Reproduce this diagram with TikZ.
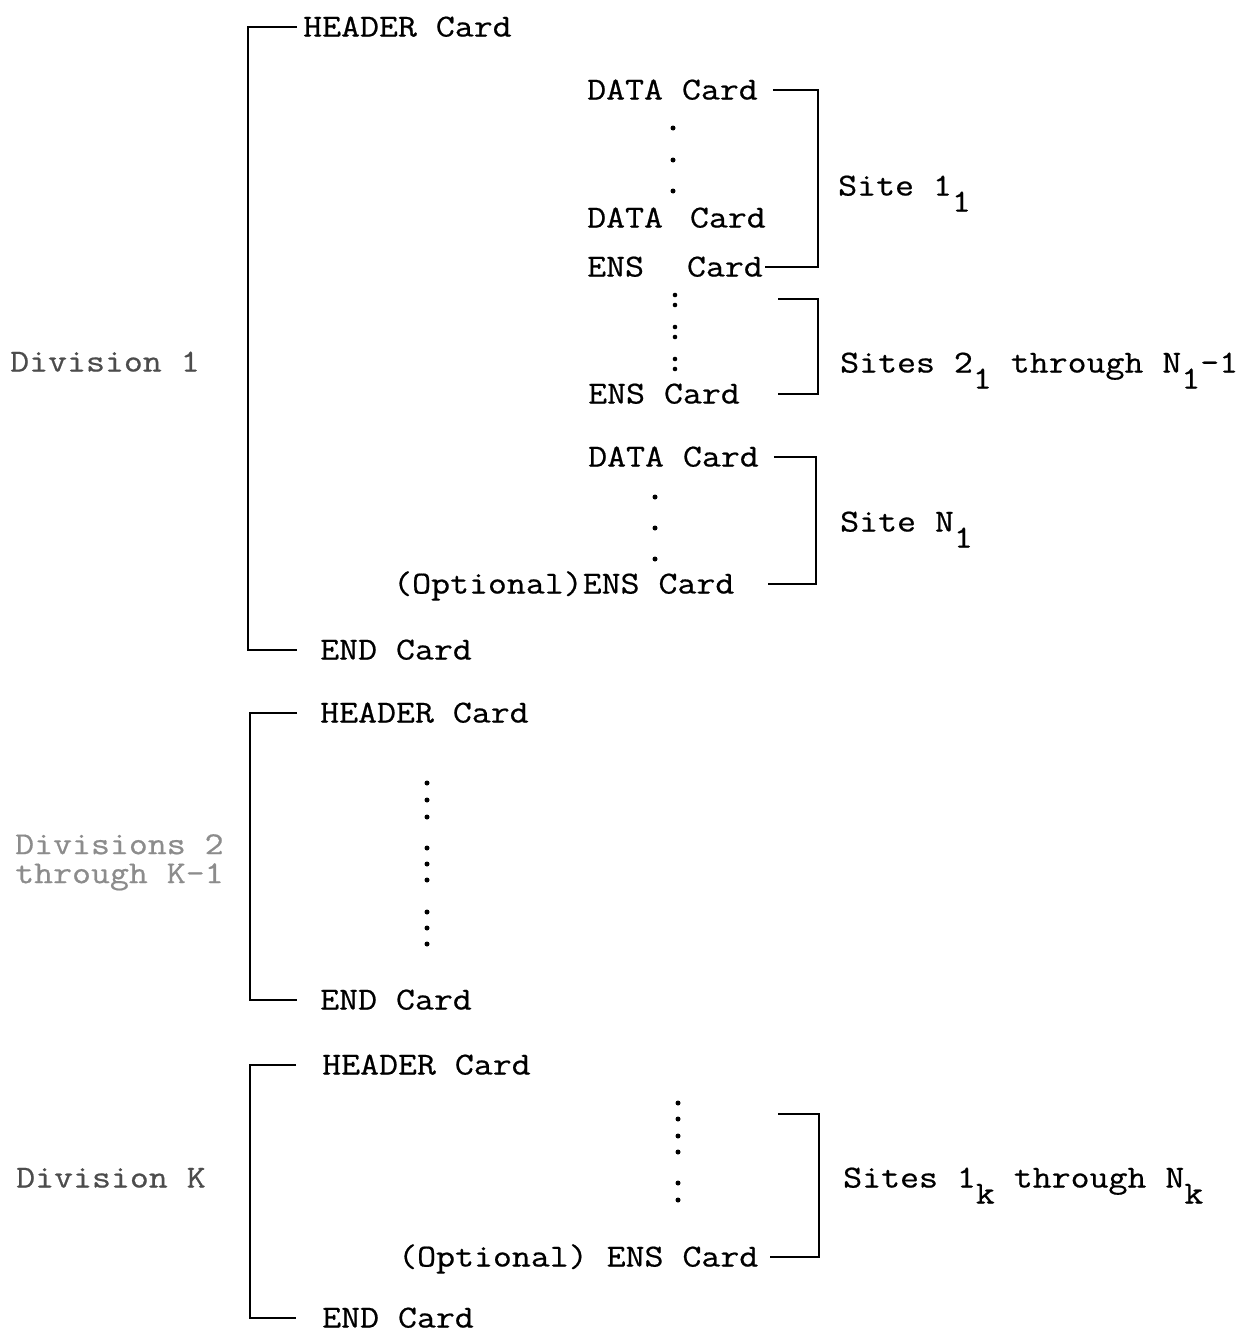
\documentclass[tikz,border=0pt]{standalone}
\usepackage{fontspec}
\setmonofont{Latin Modern Mono}[FakeStretch=1.15,FakeBold=0.6]
\newcommand\sbs[1]{\raisebox{-16pt}{#1}}
\begin{document}
\begin{tikzpicture}[x=1pt,y=-1pt,
  txt/.style={anchor=west,inner sep=0pt,text height=19pt,text depth=0pt,
    font=\ttfamily\fontsize{32}{29}\selectfont},
  divtxt/.style={txt,text=black!70},
  br/.style={line width=2pt},
  dot/.style={fill=black}]
\useasboundingbox (0,0) rectangle (1247,1333);
% ---------------- Division 1
\node[txt] (h1) at (303,27) {HEADER Card};
\node[txt] (d1a) at (587,90) {DATA Card};
\node[txt] (d1b) at (587,218) {DATA\hspace{8pt} Card};
\node[txt] (ens1) at (587,267) {ENS\hspace{24pt} Card};
\node[txt] (s11) at (838,186) {Site 1\sbs{1}};
\node[txt] (ens2) at (588,394) {ENS Card};
\node[txt] (s2) at (840,363) {Sites 2\sbs{1} through N\sbs{1}-1};
\node[txt] (d1c) at (588,457) {DATA Card};
\node[txt] (opt1) at (393,584) {(Optional)ENS Card};
\node[txt] (sN) at (840,522) {Site N\sbs{1}};
\node[txt] (e1) at (320,650) {END Card};
\node[divtxt] (div1) at (10,362) {Division 1};
\foreach \y in {128,160,191} \fill[dot] (673,\y) circle (2.5);
\foreach \y in {295,305,327,337,359,369} \fill[dot] (675,\y) circle (2.3);
\foreach \y in {497,528,559} \fill[dot] (655,\y) circle (2.5);
\coordinate (sp1) at (818,0);
\coordinate (sp3) at (816,0);
\coordinate (t2) at (778,299);
\draw[br] ([xshift=-6pt]h1.west) -- ++(-49,0) |- ([xshift=-23pt]e1.west);
\draw[br] ([xshift=15pt]d1a.east) -- (d1a.east -| sp1) -- (ens1.east -| sp1) -- ([xshift=2pt]ens1.east);
\draw[br] (t2) -- (t2 -| sp1) -- (ens2.east -| sp1) -- ([xshift=38pt]ens2.east);
\draw[br] ([xshift=15pt]d1c.east) -- (d1c.east -| sp3) -- (opt1.east -| sp3) -- ([xshift=33pt]opt1.east);
% ---------------- Divisions 2 .. K-1
\node[txt] (h2) at (320,713) {HEADER Card};
\node[txt] (e2) at (320,1000) {END Card};
\node[txt,text=black!45,align=left,anchor=north west,text height=,text depth=] (div2) at (15,834) {Divisions 2\\through K-1};
\foreach \y in {783,800,817,848,864,880,912,928,944} \fill[dot] (427,\y) circle (2.5);
\draw[br] ([xshift=-23pt]h2.west) -- ++(-47,0) |- ([xshift=-23pt]e2.west);
% ---------------- Division K
\node[txt] (h3) at (322,1065) {HEADER Card};
\node[txt] (opt2) at (398,1257) {(Optional) ENS Card};
\node[txt] (sK) at (843,1178) {Sites 1\sbs{k} through N\sbs{k}};
\node[txt] (e3) at (322,1318) {END Card};
\node[divtxt] (divK) at (16,1178) {Division K};
\foreach \y in {1103,1119,1136,1152,1183,1200} \fill[dot] (678,\y) circle (2.5);
\coordinate (spK) at (819,0);
\coordinate (tK) at (778,1114);
\draw[br] ([xshift=-26pt]h3.west) -- ++(-46,0) |- ([xshift=-26pt]e3.west);
\draw[br] (tK) -- (tK -| spK) -- (opt2.east -| spK) -- ([xshift=12pt]opt2.east);
\end{tikzpicture}
\end{document}
